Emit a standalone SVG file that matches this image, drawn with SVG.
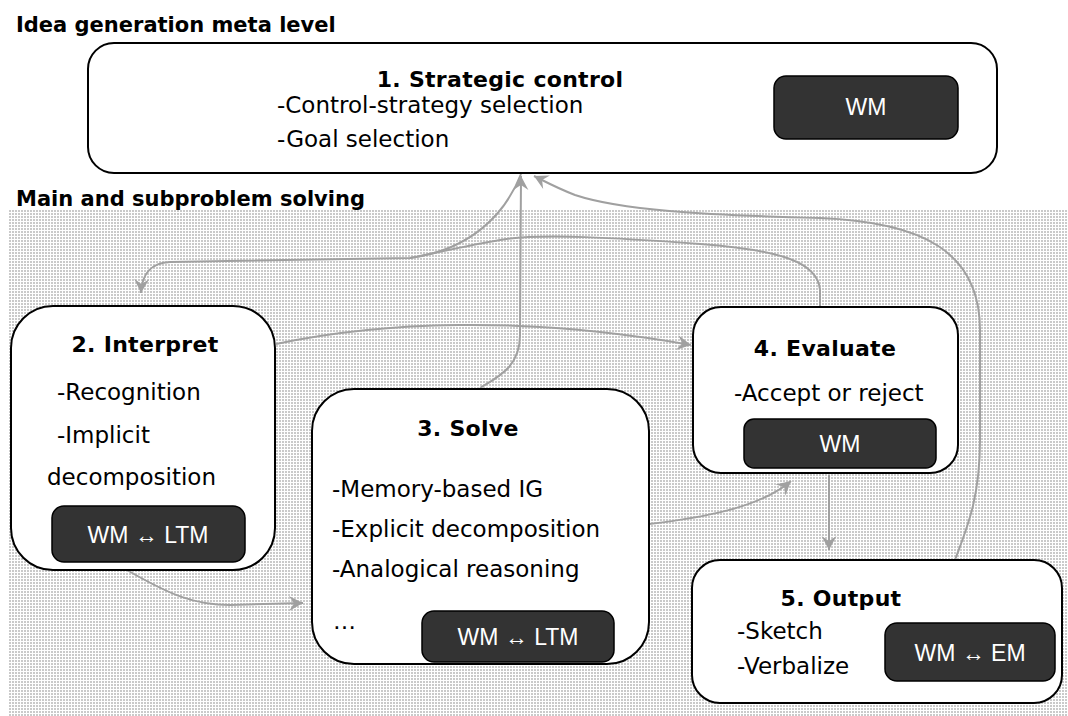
<svg xmlns="http://www.w3.org/2000/svg" width="1068" height="716" viewBox="0 0 1068 716">
<defs>
<pattern id="dots" x="0" y="0" width="3" height="3" patternUnits="userSpaceOnUse">
<rect width="3" height="3" fill="#ffffff"/>
<rect x="0" y="0" width="2" height="2" fill="#cacaca"/>
</pattern>
<marker id="arr" markerUnits="userSpaceOnUse" markerWidth="18" markerHeight="18" viewBox="-16 -9 18 18" refX="0" refY="0" orient="auto">
<path d="M0,0 L-14,-7.5 L-9,0 L-14,7.5 Z" fill="#a0a0a0"/>
</marker>
<style>
.box{fill:#fff;stroke:#000;stroke-width:2}
.mem{fill:#333;stroke:#000;stroke-width:1.5}
.t{font-family:'DejaVu Sans','Liberation Sans',sans-serif;font-size:23px;fill:#000}
.h{font-family:'DejaVu Sans','Liberation Sans',sans-serif;font-size:22px;font-weight:bold;fill:#000;text-anchor:middle;letter-spacing:0.3px}
.sec{font-family:'DejaVu Sans','Liberation Sans',sans-serif;font-size:21px;font-weight:bold;fill:#000}
.m{font-family:'Liberation Sans',Arial,sans-serif;font-size:23px;fill:#fff;text-anchor:middle}
.c{fill:none;stroke:#a0a0a0;stroke-width:2}
</style>
</defs>
<rect width="1068" height="716" fill="#fff"/>
<rect x="8" y="210" width="1060" height="506" fill="url(#dots)"/>
<text class="sec" x="16" y="32">Idea generation meta level</text>
<text class="sec" x="16" y="206">Main and subproblem solving</text>

<g id="connectors">
<path class="c" d="M521,174 C505,215 470,250 410,258 L170,262 C152,263 142,272 141,293" marker-end="url(#arr)"/>
<path class="c" d="M820,307 L820,290 C818,262 780,250 700,244 C620,238 540,233 500,240 C470,245 440,252 410,258"/>
<path class="c" d="M480,388 C500,376 520,366 520,335 L521,176" marker-end="url(#arr)"/>
<path class="c" d="M955,560 C966,530 980,500 980,440 L980,330 C980,250 920,222 820,218 C700,215 620,210 575,195 C557,188 546,182 534,176" marker-end="url(#arr)"/>
<path class="c" d="M276,344 C380,322 520,315 691,345" marker-end="url(#arr)"/>
<path class="c" d="M127,570 C170,595 195,605 230,605 L303,603" marker-end="url(#arr)"/>
<path class="c" d="M649,524 C700,518 760,508 791,481" marker-end="url(#arr)"/>
<path class="c" d="M829,475 L829,550" marker-end="url(#arr)"/>
</g>

<g id="node1">
<rect class="box" x="88" y="43" width="909" height="130" rx="26"/>
<text class="h" x="500" y="87">1. Strategic control</text>
<text class="t" x="277" y="113">-Control-strategy selection</text>
<text class="t" x="277" y="147">-Goal selection</text>
<rect class="mem" x="774" y="76" width="184" height="63" rx="12"/>
<text class="m" x="866" y="115">WM</text>
</g>

<g id="node2">
<rect class="box" x="11" y="306" width="264" height="264" rx="42"/>
<text class="h" x="145" y="352">2. Interpret</text>
<text class="t" x="57" y="400">-Recognition</text>
<text class="t" x="57" y="443">-Implicit</text>
<text class="t" x="47" y="485">decomposition</text>
<rect class="mem" x="52" y="506" width="193" height="56" rx="12"/>
<text class="m" x="148" y="543">WM ↔ LTM</text>
</g>

<g id="node3">
<rect class="box" x="312" y="389" width="337" height="275" rx="42"/>
<text class="h" x="468" y="436">3. Solve</text>
<text class="t" x="332" y="497">-Memory-based IG</text>
<text class="t" x="332" y="537">-Explicit decomposition</text>
<text class="t" x="332" y="577">-Analogical reasoning</text>
<text class="t" x="333" y="629">…</text>
<rect class="mem" x="422" y="611" width="192" height="51" rx="12"/>
<text class="m" x="518" y="645">WM ↔ LTM</text>
</g>

<g id="node4">
<rect class="box" x="693" y="307" width="265" height="166" rx="28"/>
<text class="h" x="825" y="356">4. Evaluate</text>
<text class="t" x="734" y="401">-Accept or reject</text>
<rect class="mem" x="744" y="419" width="192" height="49" rx="10"/>
<text class="m" x="840" y="452">WM</text>
</g>

<g id="node5">
<rect class="box" x="692" y="560" width="370" height="143" rx="28"/>
<text class="h" x="841" y="606">5. Output</text>
<text class="t" x="737" y="639">-Sketch</text>
<text class="t" x="737" y="674">-Verbalize</text>
<rect class="mem" x="885" y="623" width="170" height="58" rx="12"/>
<text class="m" x="970" y="661">WM ↔ EM</text>
</g>
</svg>
